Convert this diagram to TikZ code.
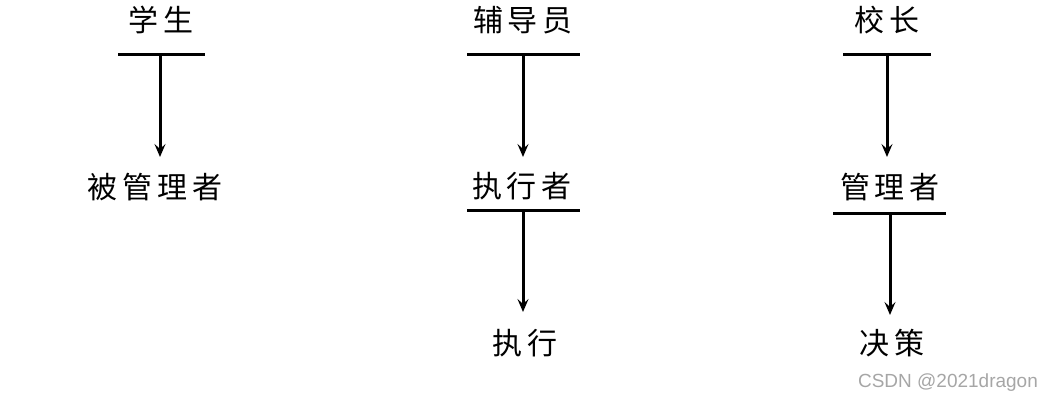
\documentclass[tikz,border=0pt]{standalone}
\usepackage{fontspec}
\setmainfont{Liberation Sans}
\newfontfamily\cjk{Noto Sans CJK SC}
\usetikzlibrary{arrows.meta}
\begin{document}
\begin{tikzpicture}[x=1pt,y=-1pt,
  lbl/.style={font=\cjk\fontsize{30}{33}\selectfont, inner sep=0pt, anchor=center},
  bar/.style={line width=3pt},
  arr/.style={line width=3pt, -{Stealth[length=13pt,width=11pt,inset=5pt]}}]
\useasboundingbox (0,0) rectangle (1053,403);
% column 1
\node[lbl] (xs) at (161,20) {学\,生};
\coordinate (b1l) at (118,55); \coordinate (b1r) at (205,55); \coordinate (b1m) at (160,55);
\node[lbl] (bgl) at (155,187) {被\,管\,理\,者};
\coordinate (t1) at (160,157);
\draw[bar] (b1l) -- (b1r);
\draw[arr] (b1m) -- (t1);
% column 2
\node[lbl] (fdy) at (523,20) {辅\,导\,员};
\coordinate (b2l) at (467,55); \coordinate (b2r) at (580,55); \coordinate (b2m) at (523,55);
\coordinate (t2) at (523,157);
\node[lbl] (zxz) at (522,186) {执\,行\,者};
\coordinate (b3l) at (467,211); \coordinate (b3r) at (580,211); \coordinate (b3m) at (523,211);
\coordinate (t3) at (523,312);
\node[lbl] (zx) at (525,343) {执\,行};
\draw[bar] (b2l) -- (b2r);
\draw[arr] (b2m) -- (t2);
\draw[bar] (b3l) -- (b3r);
\draw[arr] (b3m) -- (t3);
% column 3
\node[lbl] (xz) at (887,20) {校\,长};
\coordinate (b4l) at (843,55); \coordinate (b4r) at (931,55); \coordinate (b4m) at (887,55);
\coordinate (t4) at (887,157);
\node[lbl] (glz) at (890,187) {管\,理\,者};
\coordinate (b5l) at (833,214); \coordinate (b5r) at (946,214); \coordinate (b5m) at (890,214);
\coordinate (t5) at (890,315);
\node[lbl] (jc) at (892,343) {决\,策};
\draw[bar] (b4l) -- (b4r);
\draw[arr] (b4m) -- (t4);
\draw[bar] (b5l) -- (b5r);
\draw[arr] (b5m) -- (t5);
% watermark
\node[font=\fontsize{19}{21}\selectfont, text=black!35, inner sep=0pt] (wm) at (948,383) {CSDN @2021dragon};
\end{tikzpicture}
\end{document}
